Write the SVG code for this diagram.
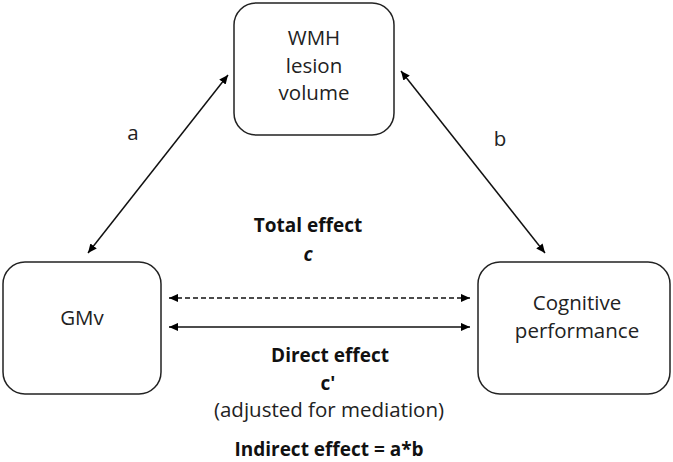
<svg xmlns="http://www.w3.org/2000/svg" width="673" height="462" viewBox="0 0 673 462">
  <defs>
    <marker id="ah" viewBox="0 0 10 10" refX="10" refY="5" markerWidth="9" markerHeight="9" markerUnits="userSpaceOnUse" orient="auto-start-reverse">
      <path d="M0,0.5 L10,5 L0,9.5 z" fill="#000"/>
    </marker>
    <style>
      .box { fill: #fff; stroke: #222; stroke-width: 1.5; }
      .lbl { font-family: "Open Sans", "Noto Sans", sans-serif; font-size: 20.5px; fill: #222; text-anchor: middle; }
      .bold { font-family: "Open Sans", "Noto Sans", sans-serif; font-size: 19px; font-weight: bold; fill: #111; text-anchor: middle; }
      .conn { stroke: #111; stroke-width: 1.5; fill: none; marker-start: url(#ah); marker-end: url(#ah); }
      .dash { stroke-dasharray: 5 3; }
    </style>
  </defs>
  <rect width="673" height="462" fill="#fff"/>

  <g id="connectors">
    <line class="conn" x1="88" y1="253" x2="228" y2="75"/>
    <line class="conn" x1="545" y1="253" x2="401" y2="71"/>
    <line class="conn dash" x1="169" y1="298" x2="470" y2="298"/>
    <line class="conn" x1="169" y1="327" x2="470" y2="327"/>
  </g>

  <g id="node-wmh">
    <rect class="box" x="234" y="3" width="160" height="132" rx="22"/>
    <text class="lbl" x="314" y="45">WMH</text>
    <text class="lbl" x="314" y="73">lesion</text>
    <text class="lbl" x="314" y="100">volume</text>
  </g>

  <g id="node-gmv">
    <rect class="box" x="3" y="262" width="158" height="132" rx="22"/>
    <text class="lbl" x="82" y="325">GMv</text>
  </g>

  <g id="node-cognitive">
    <rect class="box" x="478" y="262" width="192" height="132" rx="22"/>
    <text class="lbl" x="577" y="310">Cognitive</text>
    <text class="lbl" x="577" y="338">performance</text>
  </g>

  <g id="labels">
    <text class="lbl" x="133" y="140">a</text>
    <text class="lbl" x="500" y="146">b</text>
    <text class="bold" x="308" y="232">Total effect</text>
    <text class="bold" x="308" y="261" font-style="italic">c</text>
    <text class="bold" x="330" y="362">Direct effect</text>
    <text class="bold" x="328" y="390">c'</text>
    <text class="lbl" x="329" y="417">(adjusted for mediation)</text>
    <text class="bold" x="329" y="456">Indirect effect = a*b</text>
  </g>
</svg>
